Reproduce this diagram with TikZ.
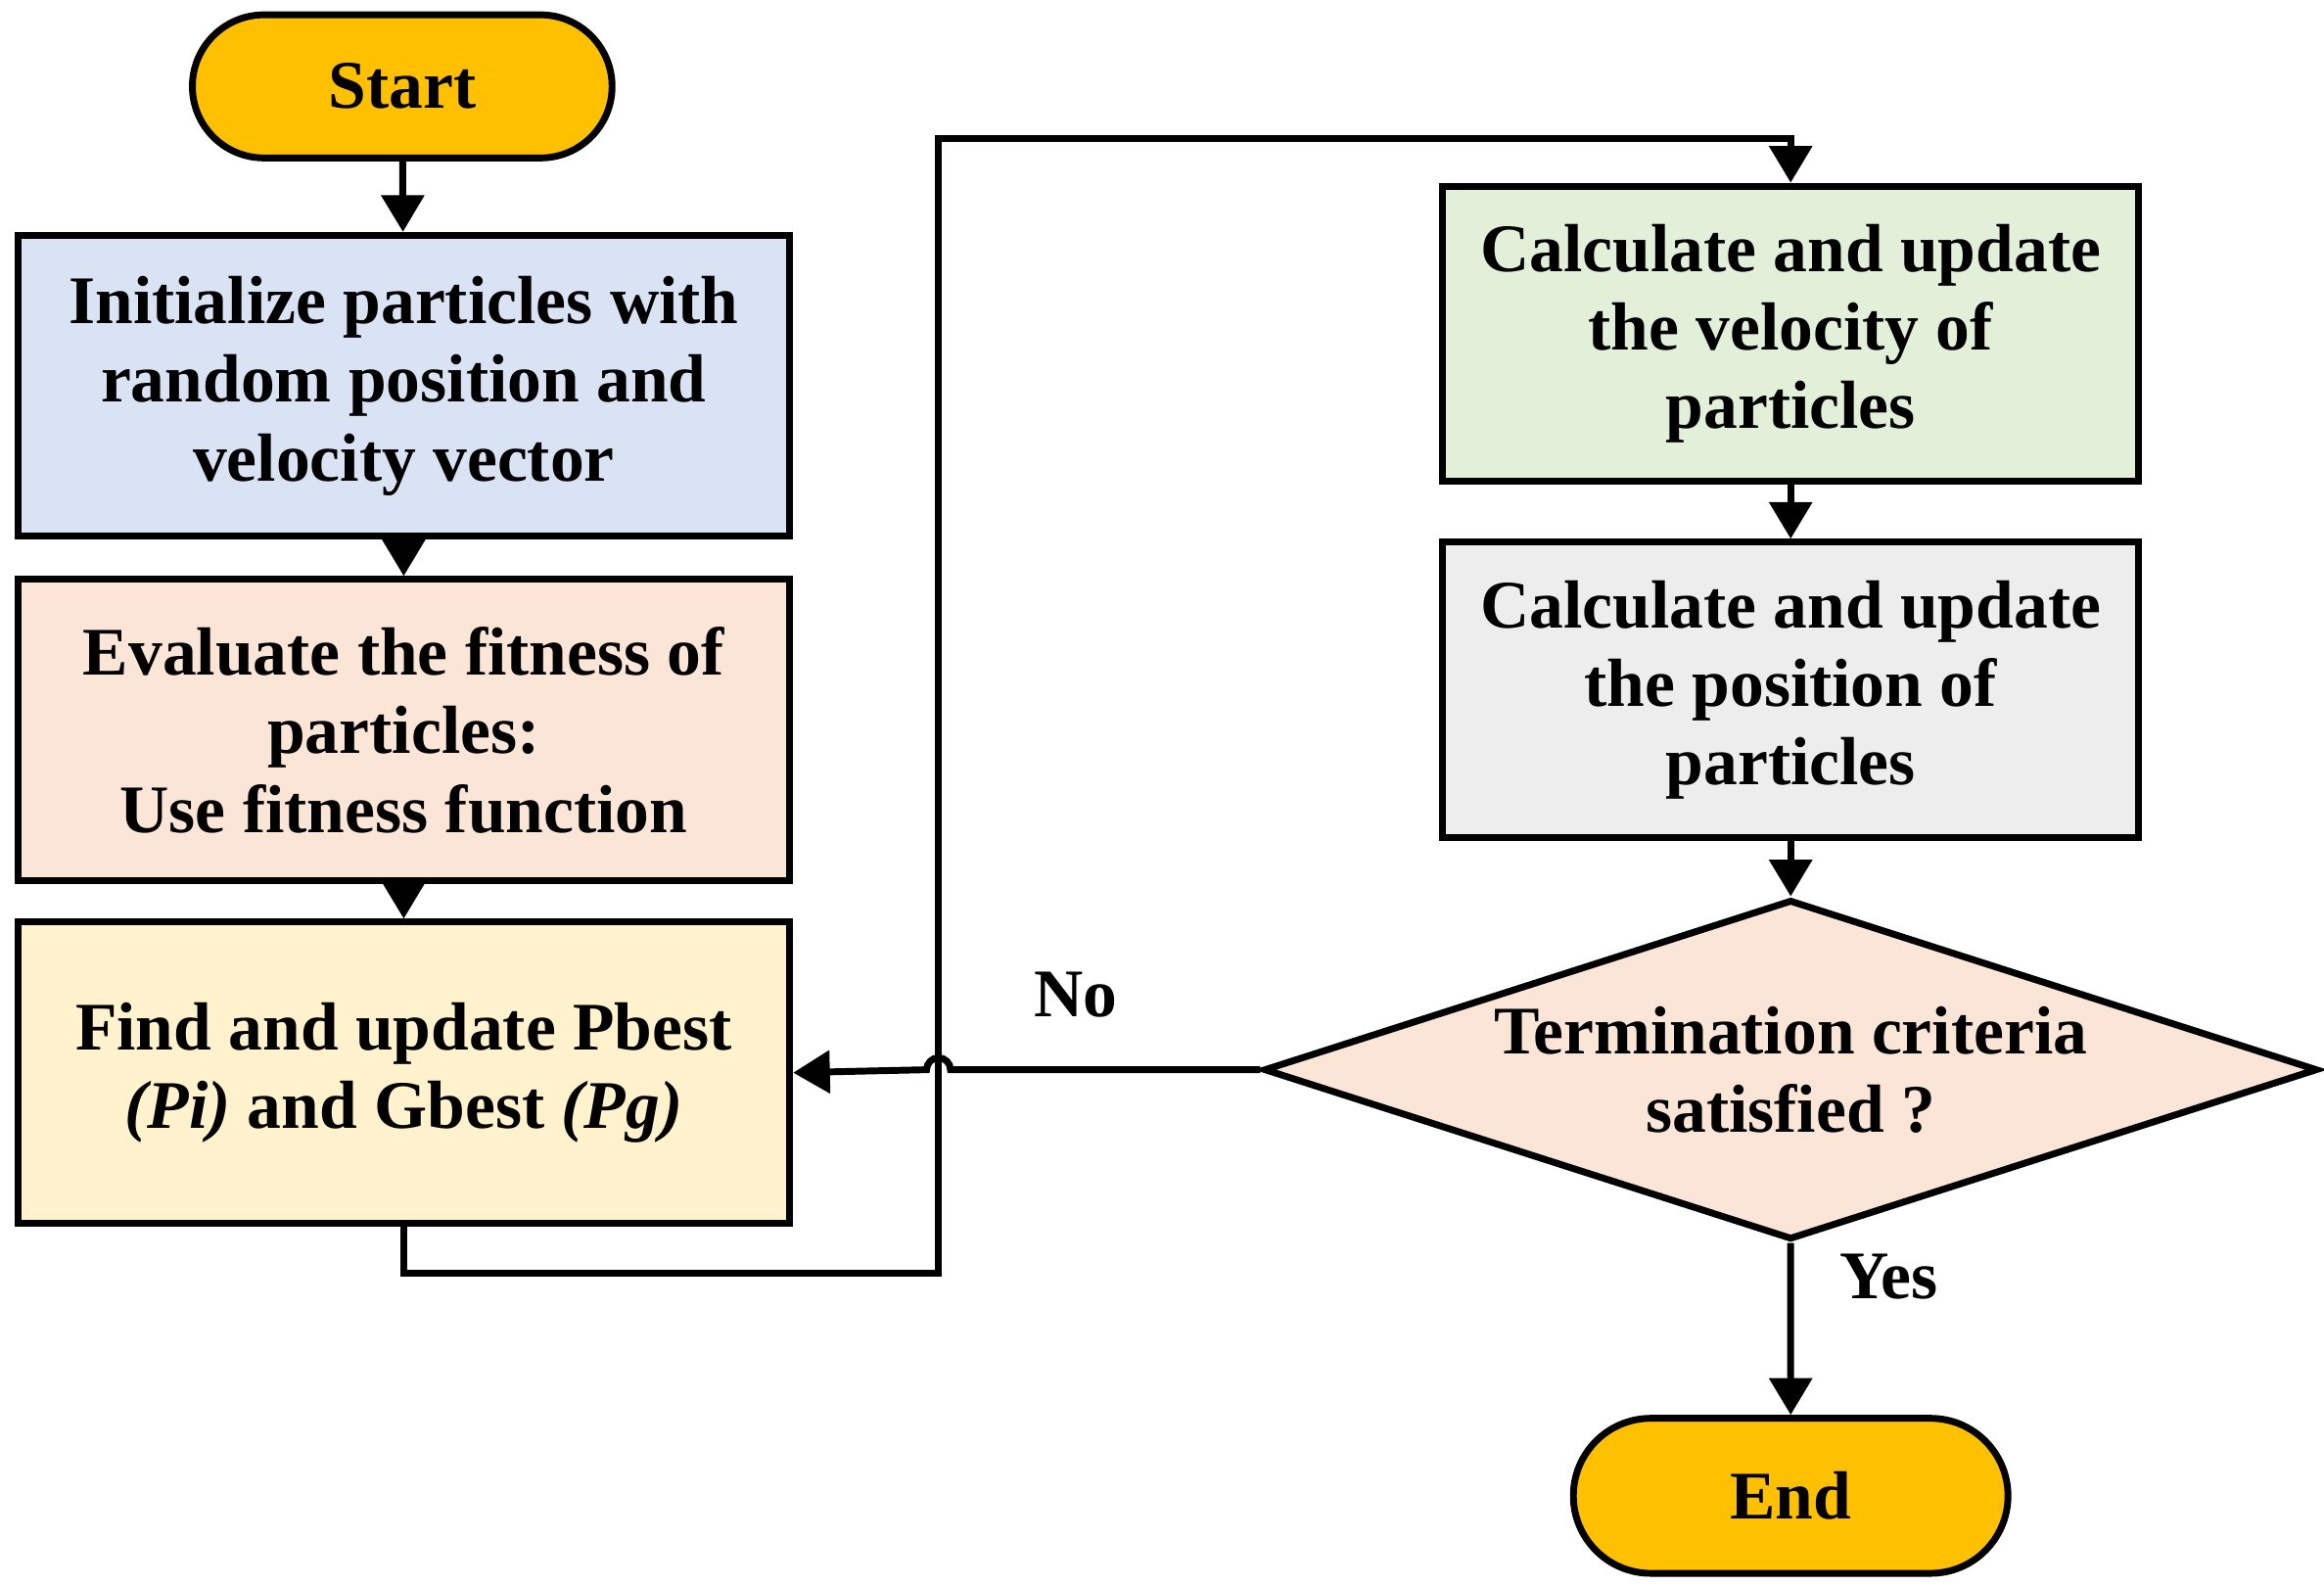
\documentclass[tikz,border=0pt]{standalone}
\usepackage{fontspec}
\setmainfont{Liberation Serif}
\usetikzlibrary{shapes.geometric,shapes.misc,arrows.meta}
\definecolor{goldfill}{HTML}{FFC000}
\definecolor{bluefill}{HTML}{DAE3F3}
\definecolor{peachfill}{HTML}{FBE5D6}
\definecolor{creamfill}{HTML}{FFF2CC}
\definecolor{greenfill}{HTML}{E2F0D9}
\definecolor{greyfill}{HTML}{EDEDED}
\tikzset{
  every node/.style={font=\fontsize{13}{15}\selectfont\bfseries, align=center},
  terminal/.style={draw, line width=1.3pt, rounded rectangle, minimum height=0.96cm},
  procbox/.style={draw, line width=1.3pt, rectangle, minimum width=5.18cm, minimum height=2.02cm},
  decide/.style={draw, line width=1.3pt, diamond, aspect=3.1, inner sep=0pt,
    minimum width=7.07cm, minimum height=2.28cm, fill=peachfill},
  flow/.style={line width=1.3pt, -{Triangle[length=7pt,width=8pt]}},
}
\begin{document}
\begin{tikzpicture}[x=0.01cm,y=0.01cm]
  \useasboundingbox (0,0) rectangle (1560,-1065);
  \node[terminal, fill=goldfill, minimum width=3.05cm] (start) at (270,-58) {Start};
  \node[procbox, fill=bluefill] (init) at (271,-259) {Initialize particles with\\random position and\\velocity vector};
  \node[procbox, fill=peachfill] (eval) at (271,-490) {Evaluate the fitness of\\particles:\\Use fitness function};
  \node[procbox, fill=creamfill] (best) at (271,-720) {Find and update Pbest\\\textit{(Pi)} and Gbest \textit{(Pg)}};
  \node[procbox, fill=greenfill, minimum width=4.67cm, minimum height=1.98cm] (vel) at (1202,-224) {Calculate and update\\the velocity of\\particles};
  \node[procbox, fill=greyfill, minimum width=4.67cm, minimum height=1.98cm] (pos) at (1202,-463) {Calculate and update\\the position of\\particles};
  \node[decide] (term) at (1202,-718) {Termination criteria\\satisfied ?};
  \node[terminal, fill=goldfill, minimum width=3.15cm, minimum height=1.04cm] (stop) at (1202,-1004) {End};
  \node (no) at (722,-668) {No};
  \node (yes) at (1268,-857) {Yes};
  \coordinate (hop) at (638,-718);
  % links
  \draw[flow] (start) -- (init);
  \draw[flow] (init) -- (eval);
  \draw[flow] (eval) -- (best);
  \draw[flow] (best.south) -- ++(0,-31) -| (630,-93) -| (vel.north);
  \draw[flow] (vel) -- (pos);
  \draw[flow] (pos) -- (term);
  \draw[flow] (term) -- (stop);
  \draw[flow] (term.west) -- (hop) arc (0:180:8) -- (best.east);
\end{tikzpicture}
\end{document}
